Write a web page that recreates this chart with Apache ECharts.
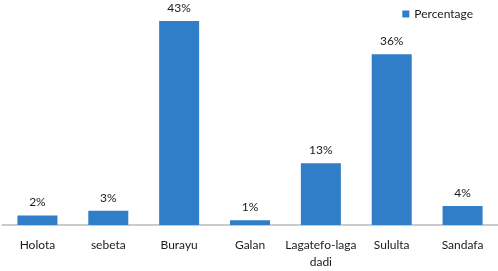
<!DOCTYPE html>
<html>
<head>
<meta charset="utf-8">
<script src="https://cdn.jsdelivr.net/npm/echarts@6/dist/echarts.min.js"></script>
<style>
  html, body { margin: 0; padding: 0; background: #fff; }
  #chart { width: 498px; height: 271px; }
</style>
</head>
<body>
<div id="chart"></div>
<script>
const categories = ['Holota', 'sebeta', 'Burayu', 'Galan', 'Lagatefo-laga\ndadi', 'Sululta', 'Sandafa']
const percentage = [2, 3, 43, 1, 13, 36, 4]

const font = 'Lato'

const mychart = echarts.init(document.getElementById('chart'))

mychart.setOption({
  animation: false,
  textStyle: { fontFamily: font },
  legend: {
    right: 20,
    top: 3,
    icon: 'rect',
    itemWidth: 7,
    itemHeight: 7,
    itemGap: 4,
    textStyle: { fontSize: 12, color: '#1a1a1a', fontFamily: font },
    data: ['Percentage']
  },
  grid: { left: 2, right: 0, top: 21, bottom: 44 },
  xAxis: {
    type: 'category',
    data: categories,
    axisTick: { show: false },
    axisLine: { lineStyle: { color: '#bbb', width: 1.5 } },
    axisLabel: { color: '#1a1a1a', fontSize: 12, fontFamily: font, margin: 12, lineHeight: 17, interval: 0 }
  },
  yAxis: {
    type: 'value',
    min: 0,
    max: 43,
    show: false,
    splitLine: { show: false }
  },
  series: [
    {
      name: 'Percentage',
      type: 'bar',
      data: percentage,
      barWidth: 40,
      itemStyle: { color: '#2f7ec7' },
      label: {
        show: true,
        position: 'top',
        distance: 7,
        formatter: '{c}%',
        color: '#1a1a1a',
        fontSize: 12,
        fontFamily: font
      }
    }
  ]
})
</script>
</body>
</html>
